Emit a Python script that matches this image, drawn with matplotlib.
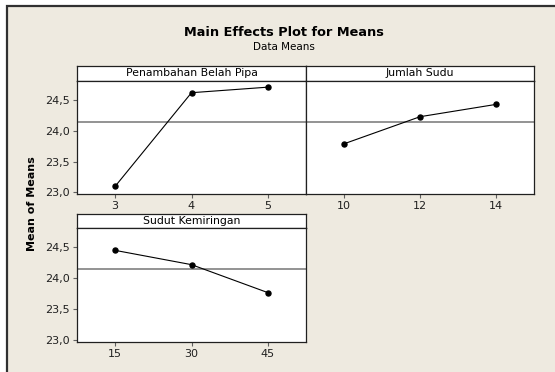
import numpy as np
import matplotlib.pyplot as plt
from matplotlib.patches import Rectangle

# --- datos ---
factors = ['Penambahan Belah Pipa', 'Jumlah Sudu', 'Sudut Kemiringan']
levels_pipa = ['3', '4', '5']
means_pipa = [23.10, 24.62, 24.71]
levels_sudu = ['10', '12', '14']
means_sudu = [23.79, 24.23, 24.43]
levels_sudut = ['15', '30', '45']
means_sudut = [24.45, 24.22, 23.77]

ytick_vals = [23.0, 23.5, 24.0, 24.5]
ytick_labels = ['23,0', '23,5', '24,0', '24,5']

grand_mean = np.mean(means_pipa + means_sudu + means_sudut)

W, H = 555, 372
BG = '#EEEAE0'


def box(x0, y0, x1, y1):
    # pixel box (top-left origin) -> figure fraction
    return [x0 / W, 1 - y1 / H, (x1 - x0) / W, (y1 - y0) / H]


fig = plt.figure(figsize=(W / 100, H / 100), dpi=100)
fig.patch.set_facecolor('white')
fig.patches.append(Rectangle((7 / W, -0.1), 1.2, 1 - 6 / H + 0.1, transform=fig.transFigure,
                             facecolor=BG, edgecolor='#303030', linewidth=1.6, zorder=-5))

fig.text(284 / W, 1 - 33 / H, 'Main Effects Plot for Means', ha='center', va='center',
         fontsize=9.3, fontweight='bold')
fig.text(284 / W, 1 - 47 / H, 'Data Means', ha='center', va='center', fontsize=7.5)
fig.text(32 / W, 1 - 204 / H, 'Mean of Means', ha='center', va='center', rotation=90,
         fontsize=8, fontweight='bold')

panels = [
    (factors[0], levels_pipa, means_pipa, (77, 66, 306, 81, 194), True),
    (factors[1], levels_sudu, means_sudu, (306, 66, 534, 81, 194), False),
    (factors[2], levels_sudut, means_sudut, (77, 214, 306, 228, 342), True),
]

for name, levels, means, (x0, ys, x1, yp, yb), show_y in panels:
    # strip con el nombre del factor
    sax = fig.add_axes(box(x0, ys, x1, yp))
    sax.set_facecolor('white')
    sax.set_xticks([])
    sax.set_yticks([])
    for sp in sax.spines.values():
        sp.set_color('#202020')
        sp.set_linewidth(0.9)
    sax.text(0.5, 0.5, name, ha='center', va='center', fontsize=7.8, transform=sax.transAxes)

    ax = fig.add_axes(box(x0, yp, x1, yb))
    ax.set_facecolor('white')
    x = np.arange(len(levels))
    ax.axhline(grand_mean, color='#8a8a8a', linewidth=1.3, zorder=1)
    ax.plot(x, means, color='black', linewidth=0.8, marker='o', markersize=3.6, zorder=3)
    ax.set_xlim(-0.5, len(levels) - 0.5)
    ax.set_ylim(22.975, 24.81)
    ax.set_xticks(x)
    ax.set_xticklabels(levels)
    if show_y:
        ax.set_yticks(ytick_vals)
        ax.set_yticklabels(ytick_labels)
    else:
        ax.set_yticks([])
    ax.tick_params(direction='out', length=3, width=0.8, color='#606060', labelsize=8,
                   pad=2, labelcolor='#202020')
    for sp in ax.spines.values():
        sp.set_color('#202020')
        sp.set_linewidth(0.9)

plt.savefig('out.png', dpi=100, facecolor=fig.get_facecolor())
